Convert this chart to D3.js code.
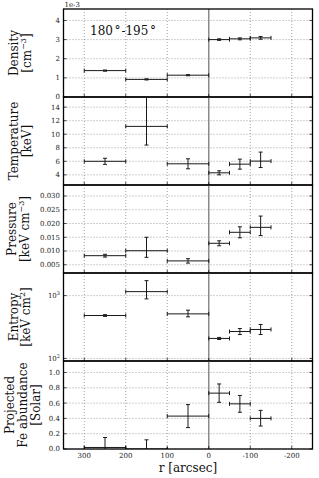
<!DOCTYPE html>
<html>
<head>
<meta charset="utf-8">
<script src="https://cdn.jsdelivr.net/npm/d3@7"></script>
<style>
body{margin:0;background:#fff}
svg{display:block;font-family:"DejaVu Serif",serif}
</style>
</head>
<body>
<script>
// radial bins (arcsec), centre and half width
var rCenter = [250, 150, 50, -25, -75, -125];
var rHalf = [50, 50, 50, 25, 25, 25];

// density in units of 1e-3 cm^-3
var density = [1.38, 0.92, 1.14, 3.00, 3.04, 3.09];
var densityLo = [0.03, 0.03, 0.03, 0.04, 0.05, 0.07];
var densityHi = [0.03, 0.03, 0.03, 0.04, 0.05, 0.07];

var temperature = [6.0, 11.16, 5.63, 4.3, 5.58, 6.03];
var temperatureLo = [0.45, 2.76, 0.74, 0.3, 0.74, 0.95];
var temperatureHi = [0.45, 5.0, 0.74, 0.3, 0.74, 1.33];

var pressure = [0.0083, 0.0101, 0.0064, 0.0128, 0.0168, 0.0186];
var pressureLo = [0.0005, 0.0024, 0.0008, 0.0009, 0.002, 0.003];
var pressureHi = [0.0005, 0.0049, 0.0008, 0.0009, 0.002, 0.0041];

var entropy = [482, 1157, 512, 208, 268, 289];
var entropyLo = [15, 270, 53, 8, 28, 49];
var entropyHi = [15, 573, 74, 8, 31, 58];

var iron = [0.02, 0.0, 0.43, 0.73, 0.59, 0.40];
var ironLo = [0.13, 0.12, 0.15, 0.12, 0.11, 0.10];
var ironHi = [0.13, 0.12, 0.15, 0.12, 0.11, 0.105];

var xTicks = [300, 200, 100, 0, -100, -200];
var densityTicks = [0, 1, 2, 3, 4];
var temperatureTicks = [4, 6, 8, 10, 12, 14];
var pressureTicks = [0.005, 0.010, 0.015, 0.020, 0.025, 0.030];
var entropyTicks = [100, 1000];
var ironTicks = [0.0, 0.2, 0.4, 0.6, 0.8, 1.0];

function main(){
    var width = 319, height = 478;
    var left = 63.5, right = 312.5, top = 9, panelH = 88;

    var svg = d3.select("body").append("svg")
                .attr("width", width)
                .attr("height", height);

    var x = d3.scaleLinear().domain([350, -250]).range([left, right]);

    var panels = [
        {name: "dens", val: density, lo: densityLo, hi: densityHi, ticks: densityTicks,
         scale: d3.scaleLinear().domain([0, 4.6]), fmt: d3.format("d"),
         label: [["Density"], ["[cm", "−3", "]"]], lx: [14, 26.5]},
        {name: "temp", val: temperature, lo: temperatureLo, hi: temperatureHi, ticks: temperatureTicks,
         scale: d3.scaleLinear().domain([2.5, 15.5]), fmt: d3.format("d"),
         label: [["Temperature"], ["[keV]"]], lx: [13.5, 26.5]},
        {name: "pres", val: pressure, lo: pressureLo, hi: pressureHi, ticks: pressureTicks,
         scale: d3.scaleLinear().domain([0.002, 0.034]), fmt: d3.format(".3f"),
         label: [["Pressure"], ["[keV cm", "−3", "]"]], lx: [12, 25]},
        {name: "entr", val: entropy, lo: entropyLo, hi: entropyHi, ticks: entropyTicks,
         scale: d3.scaleLog().domain([91, 2290]), fmt: null,
         label: [["Entropy"], ["[keV cm", "2", "]"]], lx: [13.5, 26]},
        {name: "fe", val: iron, lo: ironLo, hi: ironHi, ticks: ironTicks,
         scale: d3.scaleLinear().domain([0, 1.15]), fmt: d3.format(".1f"),
         label: [["Projected"], ["Fe abundance"], ["[Solar]"]], lx: [10, 23, 36]}
    ];

    panels.forEach(function(p, k){
        var y0 = top + k * panelH, y1 = y0 + panelH;
        var y = p.scale.range([y1, y0]);
        var g = svg.append("g");

        g.append("clipPath").attr("id", "clip" + k)
            .append("rect").attr("x", left).attr("y", y0)
            .attr("width", right - left).attr("height", panelH);

        // dotted grid
        g.selectAll("line.gx").data(xTicks.filter(function(d){ return d !== 0; }))
            .enter().append("line")
            .attr("x1", function(d){ return x(d); }).attr("x2", function(d){ return x(d); })
            .attr("y1", y0).attr("y2", y1)
            .attr("stroke", "#777").attr("stroke-width", 0.7).attr("stroke-dasharray", "1,2");
        g.selectAll("line.gy").data(p.ticks)
            .enter().append("line")
            .attr("x1", left).attr("x2", right)
            .attr("y1", function(d){ return y(d); }).attr("y2", function(d){ return y(d); })
            .attr("stroke", "#777").attr("stroke-width", 0.7).attr("stroke-dasharray", "1,2");

        // r = 0 line
        g.append("line")
            .attr("x1", x(0)).attr("x2", x(0)).attr("y1", y0).attr("y2", y1)
            .attr("stroke", "#8a8a8a").attr("stroke-width", 1.5);

        // error bars
        var pts = g.append("g").attr("clip-path", "url(#clip" + k + ")")
            .attr("stroke", "#1a1a1a").attr("stroke-width", 1).attr("fill", "none");
        var bar = pts.selectAll("g").data(rCenter).enter().append("g");
        bar.append("line")
            .attr("x1", function(d, i){ return x(d + rHalf[i]); })
            .attr("x2", function(d, i){ return x(d - rHalf[i]); })
            .attr("y1", function(d, i){ return y(p.val[i]); })
            .attr("y2", function(d, i){ return y(p.val[i]); });
        bar.append("line")
            .attr("x1", function(d){ return x(d); }).attr("x2", function(d){ return x(d); })
            .attr("y1", function(d, i){ return y(p.val[i] - p.lo[i]); })
            .attr("y2", function(d, i){ return y(p.val[i] + p.hi[i]); });
        // caps
        bar.append("path").attr("d", function(d, i){
            var cx = x(d), cy = y(p.val[i]);
            var xa = x(d + rHalf[i]), xb = x(d - rHalf[i]);
            var ya = y(p.val[i] - p.lo[i]), yb = y(p.val[i] + p.hi[i]);
            return "M" + (cx - 2) + "," + ya + "H" + (cx + 2) +
                   "M" + (cx - 2) + "," + yb + "H" + (cx + 2) +
                   "M" + xa + "," + (cy - 2) + "V" + (cy + 2) +
                   "M" + xb + "," + (cy - 2) + "V" + (cy + 2);
        });

        // tick marks, inward on both sides
        g.selectAll("line.ty").data(p.ticks).enter().append("line")
            .attr("x1", left).attr("x2", left + 3)
            .attr("y1", function(d){ return y(d); }).attr("y2", function(d){ return y(d); })
            .attr("stroke", "#000").attr("stroke-width", 0.7);
        g.selectAll("line.ty2").data(p.ticks).enter().append("line")
            .attr("x1", right).attr("x2", right - 3)
            .attr("y1", function(d){ return y(d); }).attr("y2", function(d){ return y(d); })
            .attr("stroke", "#000").attr("stroke-width", 0.7);
        g.selectAll("line.tx").data(xTicks).enter().append("line")
            .attr("x1", function(d){ return x(d); }).attr("x2", function(d){ return x(d); })
            .attr("y1", y1).attr("y2", y1 - 3)
            .attr("stroke", "#000").attr("stroke-width", 0.7);

        // y tick labels
        var tl = g.selectAll("text.yt").data(p.ticks).enter().append("text")
            .attr("x", left - 3.5).attr("y", function(d){ return y(d); })
            .attr("dy", "0.35em").attr("text-anchor", "end")
            .attr("font-size", 7).attr("fill", "#222");
        if (p.fmt) {
            tl.text(function(d){ return p.fmt(d); });
        } else {
            tl.text("10").append("tspan").attr("dy", -3).attr("font-size", 5)
                .text(function(d){ return Math.round(Math.log10(d)); });
        }

        // frame
        g.append("rect").attr("x", left).attr("y", y0)
            .attr("width", right - left).attr("height", panelH)
            .attr("fill", "none").attr("stroke", "#000").attr("stroke-width", 1.3);

        // y label (rotated, one text per line)
        var mid = (y0 + y1) / 2;
        p.label.forEach(function(parts, j){
            var t = g.append("text")
                .attr("transform", "translate(" + p.lx[j] + "," + mid + ") rotate(-90)")
                .attr("text-anchor", "middle").attr("dominant-baseline", "central")
                .attr("font-size", 12).attr("fill", "#111");
            t.append("tspan").text(parts[0]);
            if (parts.length > 1) {
                t.append("tspan").attr("dy", -4).attr("font-size", 8).text(parts[1]);
                t.append("tspan").attr("dy", 4).text(parts[2]);
            }
        });
    });

    var bottom = top + panels.length * panelH;

    // x tick labels
    svg.selectAll("text.xt").data(xTicks).enter().append("text")
        .attr("x", function(d){ return x(d); }).attr("y", bottom + 9)
        .attr("text-anchor", "middle").attr("font-size", 7).attr("fill", "#222")
        .text(function(d){ return d; });

    svg.append("text").attr("x", (left + right) / 2).attr("y", bottom + 23)
        .attr("text-anchor", "middle").attr("font-size", 12).attr("fill", "#111")
        .text("r [arcsec]");

    svg.append("text").attr("x", left + 1).attr("y", 7)
        .attr("font-size", 7).attr("fill", "#222").text("1e-3");

    var title = svg.append("text").attr("x", 90).attr("y", 35)
        .attr("font-size", 12).attr("fill", "#111");
    title.append("tspan").text("180");
    title.append("tspan").attr("dx", 1.5).text("°");
    title.append("tspan").attr("dx", 1).text("-195");
    title.append("tspan").attr("dx", 1.5).text("°");
}
main();
</script>
</body>
</html>
